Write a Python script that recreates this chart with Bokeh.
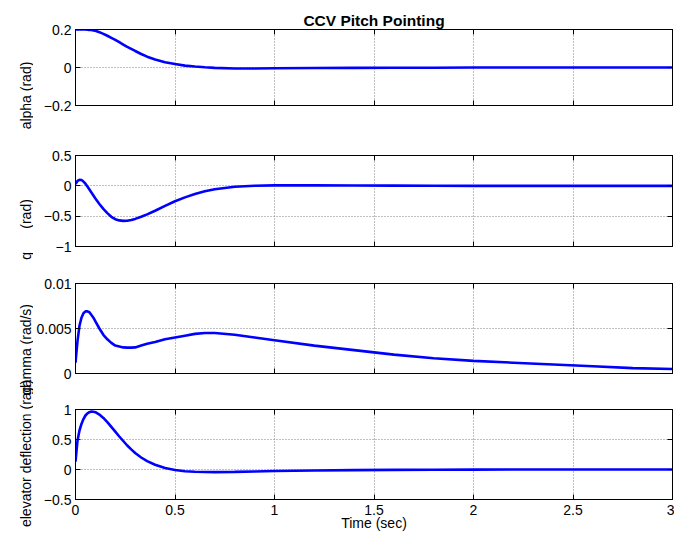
import numpy as np
from bokeh.plotting import figure
from bokeh.layouts import column, row
from bokeh.models import Range1d, FixedTicker, LinearAxis, ColumnDataSource
from bokeh.core.properties import value
from bokeh.embed import file_html
from bokeh.resources import INLINE

# ---------------- data ----------------
time_s = [0, 0.01, 0.02, 0.03, 0.04, 0.05, 0.06, 0.07, 0.08, 0.09, 0.1,
          0.12, 0.14, 0.16, 0.18, 0.2, 0.22, 0.24, 0.26, 0.28, 0.3,
          0.33, 0.36, 0.4, 0.45, 0.5, 0.55, 0.6, 0.65, 0.7, 0.8, 0.9, 1.0,
          1.2, 1.4, 1.6, 1.8, 2.0, 2.2, 2.4, 2.6, 2.8, 3.0]

alpha_rad = [0.200, 0.200, 0.200, 0.200, 0.200, 0.200, 0.199, 0.198, 0.197, 0.195, 0.193,
             0.186, 0.177, 0.167, 0.156, 0.145, 0.133, 0.121, 0.109, 0.098, 0.087,
             0.071, 0.057, 0.042, 0.028, 0.018, 0.010, 0.005, 0.001, -0.002, -0.005, -0.005, -0.004,
             -0.003, -0.002, -0.001, -0.001, 0.0, 0.0, 0.0, 0.0, 0.0, 0.0]

q_rad = [0.03, 0.08, 0.10, 0.095, 0.07, 0.035, -0.01, -0.06, -0.11, -0.16, -0.21,
         -0.30, -0.38, -0.45, -0.51, -0.55, -0.57, -0.578, -0.575, -0.562, -0.545,
         -0.51, -0.47, -0.41, -0.33, -0.255, -0.19, -0.135, -0.09, -0.055, -0.015, 0.002, 0.008,
         0.009, 0.006, 0.003, 0.001, 0.0, 0.0, 0.0, 0.0, 0.0, 0.0]

gamma_rad_s = [0.0012, 0.0036, 0.0053, 0.0062, 0.0067, 0.0069, 0.0069, 0.0068, 0.0065, 0.0062, 0.0058,
               0.0050, 0.0043, 0.0038, 0.0034, 0.0031, 0.0030, 0.0029, 0.00287, 0.00287, 0.0029,
               0.0031, 0.0033, 0.0035, 0.0038, 0.0040, 0.0042, 0.0044, 0.0045, 0.0045, 0.0043, 0.0040, 0.0037,
               0.0031, 0.0026, 0.0021, 0.0017, 0.0014, 0.0012, 0.0010, 0.0008, 0.0006, 0.0005]

elevator_rad = [0.13, 0.48, 0.65, 0.76, 0.84, 0.90, 0.935, 0.955, 0.965, 0.963, 0.955,
                0.915, 0.86, 0.79, 0.71, 0.63, 0.55, 0.475, 0.40, 0.335, 0.275,
                0.20, 0.14, 0.08, 0.025, -0.008, -0.028, -0.038, -0.042, -0.043, -0.040, -0.033, -0.026,
                -0.016, -0.010, -0.006, -0.003, -0.002, -0.001, 0.0, 0.0, 0.0, 0.0]

x_ticks = [0, 0.5, 1, 1.5, 2, 2.5, 3]
x_tick_labels = ["0", "0.5", "1", "1.5", "2", "2.5", "3"]

alpha_ticks = [-0.2, 0, 0.2]
alpha_tick_labels = ["\u22120.2", "0", "0.2"]
q_ticks = [-1, -0.5, 0, 0.5]
q_tick_labels = ["\u22121", "\u22120.5", "0", "0.5"]
gamma_ticks = [0, 0.005, 0.01]
gamma_tick_labels = ["0", "0.005", "0.01"]
elev_ticks = [-0.5, 0, 0.5, 1]
elev_tick_labels = ["\u22120.5", "0", "0.5", "1"]

title_text = "CCV Pitch Pointing"
x_label = "Time (sec)"
y_labels = ["alpha (rad)", "q\u00a0\u00a0\u00a0\u00a0\u00a0\u00a0(rad)", "gamma (rad/s)", "elevator deflection (rad)"]

# ---------------- layout / style ----------------
FONT = "Liberation Sans"
FS = "14px"
LAB_W = 33
FRAME_W = 597
BORDER_L = 40
BORDER_R = 4


def style_axis(ax, ticks, labels, show_labels):
    ax.ticker = FixedTicker(ticks=ticks)
    ax.major_tick_in = 5
    ax.major_tick_out = 0
    ax.minor_tick_in = 0
    ax.minor_tick_out = 0
    ax.axis_line_color = "black"
    ax.major_tick_line_color = "black"
    ax.major_label_text_font = FONT
    if show_labels:
        ax.major_label_overrides = {float(t): s for t, s in zip(ticks, labels)}
        ax.major_label_text_color = "black"
        ax.major_label_text_font_size = FS
        ax.major_label_standoff = 4
    else:
        ax.major_label_text_color = None
        ax.major_label_text_font_size = "1px"
        ax.major_label_standoff = 0


def make_panel(y, y_range, yticks, ytick_labels, frame_h, top, bottom, show_x=False):
    p = figure(frame_width=FRAME_W, frame_height=frame_h,
               x_range=Range1d(0, 3), y_range=Range1d(*y_range),
               output_backend="svg", toolbar_location=None,
               min_border_left=BORDER_L, min_border_right=BORDER_R,
               min_border_top=top, min_border_bottom=bottom,
               background_fill_color="white", border_fill_color="white",
               outline_line_color="black")
    p.add_layout(LinearAxis(), "above")
    p.add_layout(LinearAxis(), "right")
    style_axis(p.below[0], x_ticks, x_tick_labels, show_x)
    style_axis(p.above[0], x_ticks, x_tick_labels, False)
    style_axis(p.left[0], yticks, ytick_labels, True)
    style_axis(p.right[0], yticks, ytick_labels, False)
    for g in (p.xgrid, p.ygrid):
        g.grid_line_color = "#808080"
        g.grid_line_dash = "1 2"
        g.grid_line_width = 1
    src = ColumnDataSource(dict(t=time_s, v=y))
    p.line("t", "v", source=src, line_color="#0000ff", line_width=2.6)
    return p


p1 = make_panel(alpha_rad, (-0.2, 0.2), alpha_ticks, alpha_tick_labels, 76, 29, 25)
p1.title.text = title_text
p1.title.align = "center"
p1.title.text_font = FONT
p1.title.text_font_size = "15.5px"
p1.title.text_font_style = "bold"
p1.title.text_color = "black"
p1.title.standoff = 2

p2 = make_panel(q_rad, (-1, 0.5), q_ticks, q_tick_labels, 91, 25, 18)
p3 = make_panel(gamma_rad_s, (0, 0.01), gamma_ticks, gamma_tick_labels, 90, 19, 18)
p4 = make_panel(elevator_rad, (-0.5, 1), elev_ticks, elev_tick_labels, 90, 18, 30, show_x=True)
p4.below[0].axis_label = x_label
p4.below[0].axis_label_text_font = FONT
p4.below[0].axis_label_text_font_size = FS
p4.below[0].axis_label_text_font_style = "normal"
p4.below[0].axis_label_text_color = "black"
p4.below[0].axis_label_standoff = -3
p4.below[0].major_label_standoff = 5

TOTAL_H = 534
lab = figure(width=LAB_W, height=TOTAL_H, x_range=Range1d(0, LAB_W), y_range=Range1d(TOTAL_H, 0),
             output_backend="svg", toolbar_location=None,
             x_axis_location=None, y_axis_location=None,
             min_border=0, min_border_left=0, min_border_right=0, min_border_top=0, min_border_bottom=0,
             outline_line_color=None, background_fill_color="white", border_fill_color="white")
lab.grid.visible = False
label_x = [25.5, 25.5, 25, 25.5]
label_y = [95, 229, 349, 453]
lab.text(x=label_x, y=label_y, text=y_labels, angle=np.pi / 2,
         text_align="center", text_baseline="middle",
         text_font=value(FONT), text_font_size=FS, text_color="black")

layout = row(lab, column(p1, p2, p3, p4, spacing=0), spacing=0)

open("out.html", "w").write(file_html(layout, INLINE))
